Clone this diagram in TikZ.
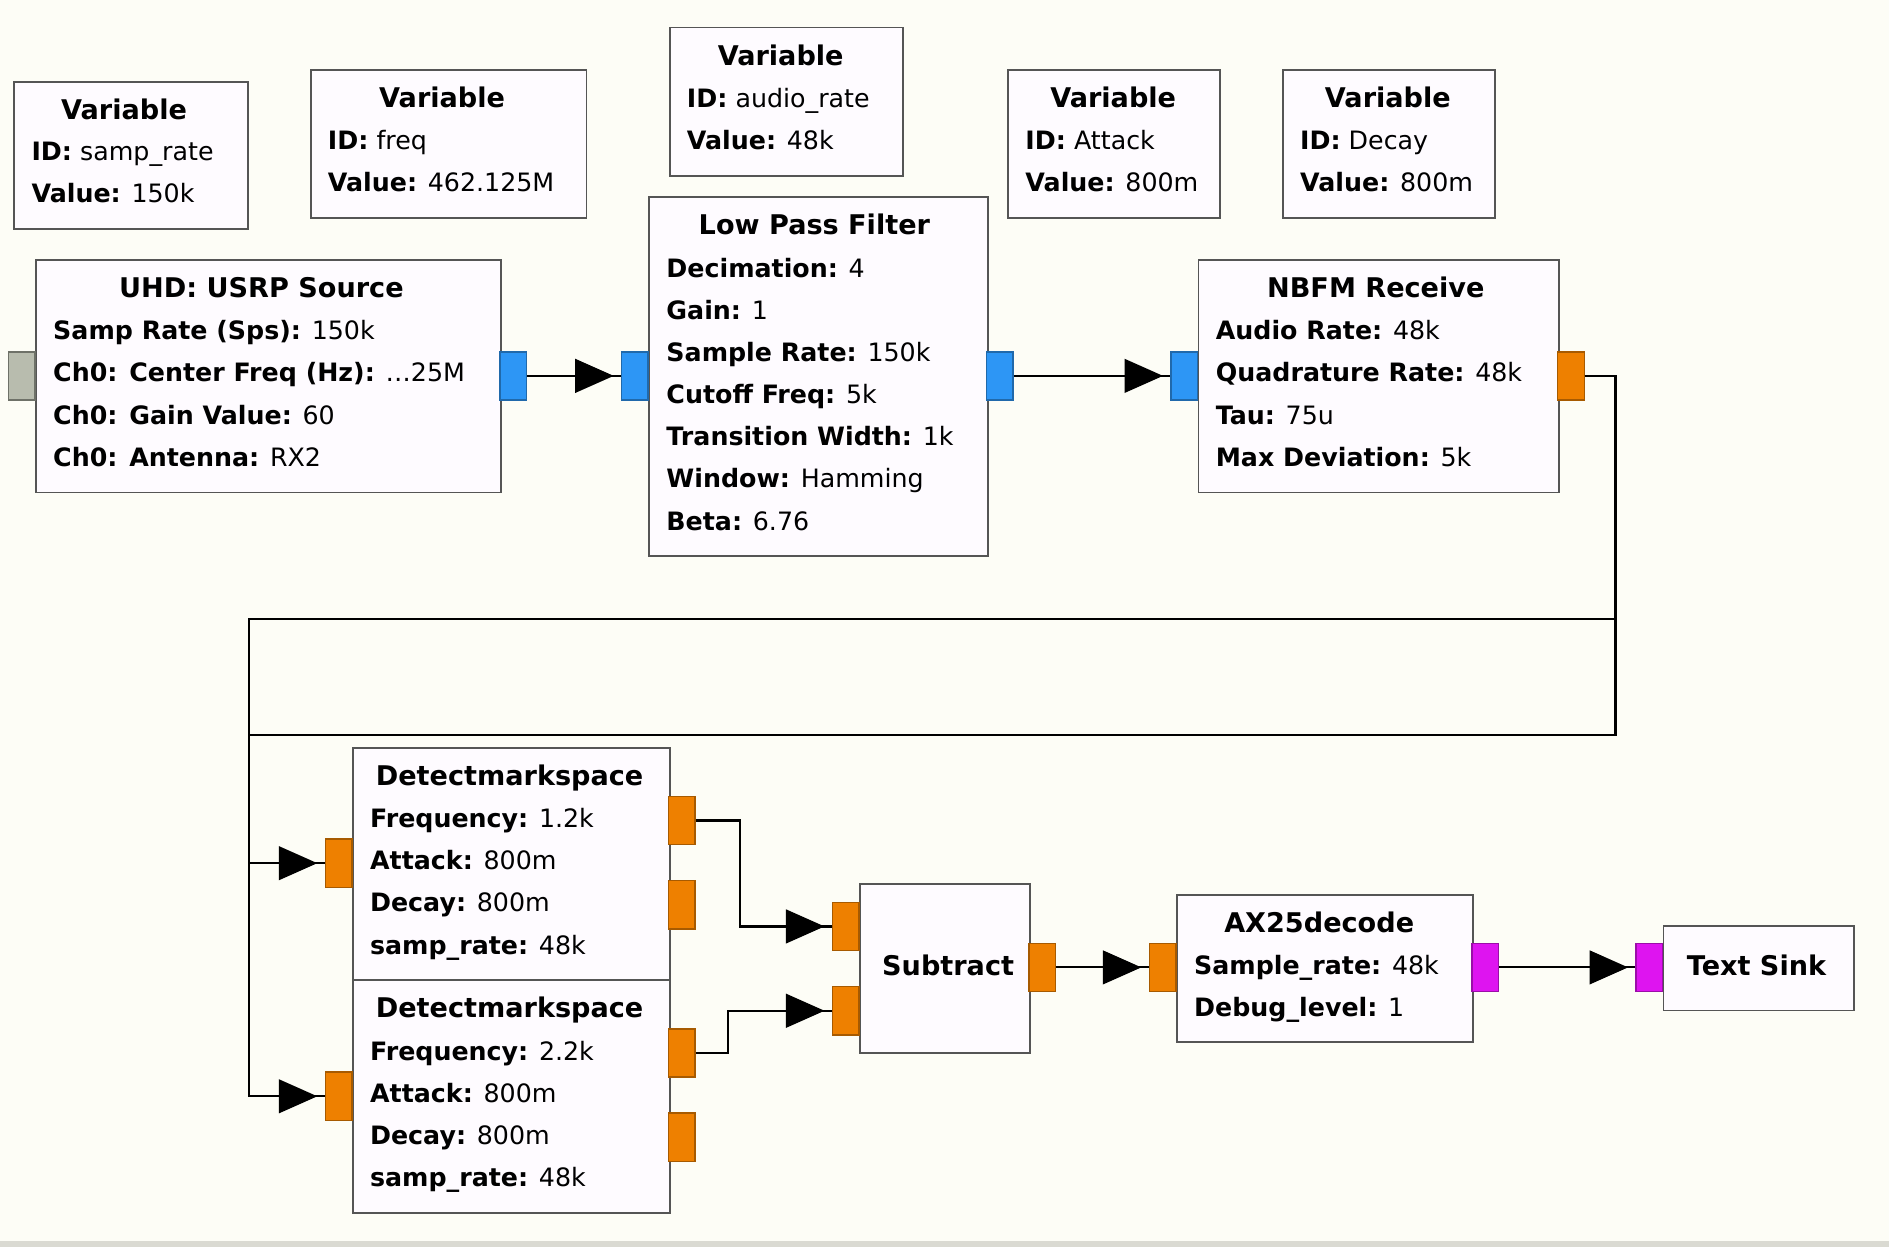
\documentclass[tikz,border=0pt]{standalone}
\usepackage{fontspec}
\setmainfont{DejaVu Sans}
\usetikzlibrary{arrows.meta}
\definecolor{bg}{RGB}{253,253,246}
\definecolor{boxfill}{RGB}{254,251,255}
\definecolor{boxline}{RGB}{85,85,85}
\definecolor{pblue}{RGB}{45,150,245}
\definecolor{porange}{RGB}{238,128,0}
\definecolor{pmag}{RGB}{222,20,240}
\definecolor{pgray}{RGB}{184,188,174}
\definecolor{strip}{RGB}{218,218,210}
\newcommand\pv[2]{\textbf{#1:} #2}
\begin{document}
\begin{tikzpicture}[x=1pt,y=-1pt,
  block/.style={draw=boxline, fill=boxfill, line width=1.6pt, inner sep=0pt, anchor=north west},
  port/.style={line width=1.2pt, minimum width=22pt, minimum height=40pt, inner sep=0pt, anchor=center},
  blueport/.style={port, fill=pblue, draw=pblue!70!black},
  orport/.style={port, fill=porange, draw=porange!70!black},
  magport/.style={port, fill=pmag, draw=pmag!70!black},
  grayport/.style={port, fill=pgray, draw=pgray!60!black},
  ttl/.style={font=\fontsize{22.5}{27}\selectfont\bfseries, anchor=base, inner sep=0pt},
  prm/.style={font=\fontsize{21}{25}\selectfont, anchor=base west, inner sep=0pt},
  wire/.style={line width=1.8pt, draw=black},
  conn/.style={wire, postaction={draw=black, line width=1.8pt, -{Triangle[length=32pt,width=28pt]}, shorten >=6pt}}
]
\useasboundingbox (0,0) rectangle (1568,1035);
\fill[bg] (0,0) rectangle (1568,1035);
\fill[strip] (0,1030) rectangle (1568,1035);

% ---------- variable blocks ----------
\node[block, minimum width=194pt, minimum height=122pt] (v1) at (11,67) {};
\node[ttl] (v1t) at (103,99) {Variable};
\node[prm] (v1a) at (26,133) {\pv{ID}{samp\_rate}};
\node[prm] (v1b) at (26,168) {\pv{Value}{150k}};

\node[block, minimum width=229pt, minimum height=123pt] (v2) at (257,57) {};
\node[ttl] (v2t) at (367,89) {Variable};
\node[prm] (v2a) at (272,124) {\pv{ID}{freq}};
\node[prm] (v2b) at (272,159) {\pv{Value}{462.125M}};

\node[block, minimum width=194pt, minimum height=123pt] (v3) at (555,22) {};
\node[ttl] (v3t) at (648,54) {Variable};
\node[prm] (v3a) at (570,89) {\pv{ID}{audio\_rate}};
\node[prm] (v3b) at (570,124) {\pv{Value}{48k}};

\node[block, minimum width=176pt, minimum height=123pt] (v4) at (836,57) {};
\node[ttl] (v4t) at (924,89) {Variable};
\node[prm] (v4a) at (851,124) {\pv{ID}{Attack}};
\node[prm] (v4b) at (851,159) {\pv{Value}{800m}};

\node[block, minimum width=176pt, minimum height=123pt] (v5) at (1064,57) {};
\node[ttl] (v5t) at (1152,89) {Variable};
\node[prm] (v5a) at (1079,124) {\pv{ID}{Decay}};
\node[prm] (v5b) at (1079,159) {\pv{Value}{800m}};

% ---------- UHD source ----------
\node[block, minimum width=386pt, minimum height=193pt] (uhd) at (29,215) {};
\node[ttl] (uhdt) at (217,247) {UHD: USRP Source};
\node[prm] (uhd1) at (44,282) {\pv{Samp Rate (Sps)}{150k}};
\node[prm] (uhd2) at (44,317) {\pv{Ch0: Center Freq (Hz)}{…25M}};
\node[prm] (uhd3) at (44,352) {\pv{Ch0: Gain Value}{60}};
\node[prm] (uhd4) at (44,387) {\pv{Ch0: Antenna}{RX2}};
\node[grayport] (uhdin) at (18,312) {};
\node[blueport] (uhdout) at (426,312) {};

% ---------- Low pass filter ----------
\node[block, minimum width=281pt, minimum height=298pt] (lpf) at (538,163) {};
\node[ttl] (lpft) at (676,195) {Low Pass Filter};
\node[prm] (lpf1) at (553,230) {\pv{Decimation}{4}};
\node[prm] (lpf2) at (553,265) {\pv{Gain}{1}};
\node[prm] (lpf3) at (553,300) {\pv{Sample Rate}{150k}};
\node[prm] (lpf4) at (553,335) {\pv{Cutoff Freq}{5k}};
\node[prm] (lpf5) at (553,370) {\pv{Transition Width}{1k}};
\node[prm] (lpf6) at (553,405) {\pv{Window}{Hamming}};
\node[prm] (lpf7) at (553,440) {\pv{Beta}{6.76}};
\node[blueport] (lpfin) at (527,312) {};
\node[blueport] (lpfout) at (830,312) {};

% ---------- NBFM receive ----------
\node[block, minimum width=299pt, minimum height=193pt] (nb) at (994,215) {};
\node[ttl] (nbt) at (1142,247) {NBFM Receive};
\node[prm] (nb1) at (1009,282) {\pv{Audio Rate}{48k}};
\node[prm] (nb2) at (1009,317) {\pv{Quadrature Rate}{48k}};
\node[prm] (nb3) at (1009,352) {\pv{Tau}{75u}};
\node[prm] (nb4) at (1009,387) {\pv{Max Deviation}{5k}};
\node[blueport] (nbin) at (983,312) {};
\node[orport] (nbout) at (1304,312) {};

% ---------- Detectmarkspace 1 ----------
\node[block, minimum width=263pt, minimum height=193pt] (d1) at (292,620) {};
\node[ttl] (d1t) at (423,652) {Detectmarkspace};
\node[prm] (d1a) at (307,687) {\pv{Frequency}{1.2k}};
\node[prm] (d1b) at (307,722) {\pv{Attack}{800m}};
\node[prm] (d1c) at (307,757) {\pv{Decay}{800m}};
\node[prm] (d1d) at (307,792) {\pv{samp\_rate}{48k}};
\node[orport] (d1in) at (281,716.5) {};
\node[orport] (d1o1) at (566,681) {};
\node[orport] (d1o2) at (566,751) {};

% ---------- Detectmarkspace 2 ----------
\node[block, minimum width=263pt, minimum height=193pt] (d2) at (292,813) {};
\node[ttl] (d2t) at (423,845) {Detectmarkspace};
\node[prm] (d2a) at (307,880) {\pv{Frequency}{2.2k}};
\node[prm] (d2b) at (307,915) {\pv{Attack}{800m}};
\node[prm] (d2c) at (307,950) {\pv{Decay}{800m}};
\node[prm] (d2d) at (307,985) {\pv{samp\_rate}{48k}};
\node[orport] (d2in) at (281,910) {};
\node[orport] (d2o1) at (566,874) {};
\node[orport] (d2o2) at (566,944) {};

% ---------- Subtract ----------
\node[block, minimum width=141pt, minimum height=140pt] (sub) at (713,733) {};
\node[ttl] (subt) at (787,810) {Subtract};
\node[orport] (sin1) at (702,769) {};
\node[orport] (sin2) at (702,839) {};
\node[orport] (sout) at (865,803) {};

% ---------- AX25decode ----------
\node[block, minimum width=246pt, minimum height=122pt] (ax) at (976,742) {};
\node[ttl] (axt) at (1095,774) {AX25decode};
\node[prm] (ax1) at (991,809) {\pv{Sample\_rate}{48k}};
\node[prm] (ax2) at (991,844) {\pv{Debug\_level}{1}};
\node[orport] (axin) at (965,803) {};
\node[magport] (axout) at (1233,803) {};

% ---------- Text sink ----------
\node[block, minimum width=158pt, minimum height=70pt] (ts) at (1380,768) {};
\node[ttl] (tst) at (1458,810) {Text Sink};
\node[magport] (tsin) at (1369,803) {};

% ---------- routing points ----------
\coordinate (ja) at (1341,514);
\coordinate (jb) at (1341,610);
\coordinate (ka) at (207,514);
\coordinate (kb) at (207,610);
\coordinate (m1) at (614,681);
\coordinate (m2) at (604,874);

% ---------- connectors ----------
\draw[conn] (uhdout.east) -- (lpfin.west);
\draw[conn] (lpfout.east) -- (nbin.west);
\draw[conn] (nbout.east) -| (jb) -- (kb) |- (d1in.west);
\draw[conn] (nbout.east) -| (ja) -- (ka) |- (d2in.west);
\draw[conn] (d1o1.east) -- (m1) |- (sin1.west);
\draw[conn] (d2o1.east) -- (m2) |- (sin2.west);
\draw[conn] (sout.east) -- (axin.west);
\draw[conn] (axout.east) -- (tsin.west);
\end{tikzpicture}
\end{document}
